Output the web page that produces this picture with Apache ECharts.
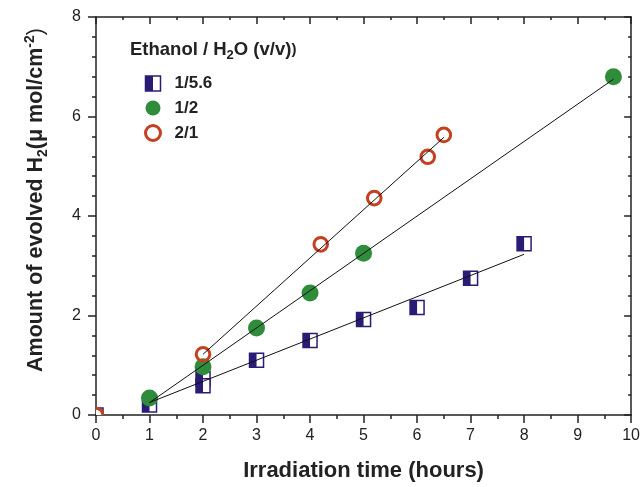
<!DOCTYPE html>
<html>
<head>
<meta charset="utf-8">
<title>H2 evolution</title>
<script src="https://cdn.jsdelivr.net/npm/echarts@6/dist/echarts.min.js"></script>
<style>
  html, body { margin: 0; padding: 0; background: #fff; }
  #chart { width: 643px; height: 487px; }
</style>
</head>
<body>
<div id="chart"></div>
<script>
// 1/5.6 ethanol / water (half filled squares)
const hoursLow = [0, 1, 2, 2, 3, 4, 5, 6, 7, 8]
const h2Low = [0, 0.2, 0.73, 0.59, 1.1, 1.5, 1.92, 2.16, 2.75, 3.44]
// 1/2 (filled green circles)
const hoursMid = [1, 2, 3, 4, 5, 9.67]
const h2Mid = [0.34, 0.97, 1.75, 2.45, 3.25, 6.8]
// 2/1 (open red circles)
const hoursHigh = [0, 2, 4.2, 5.2, 6.2, 6.5]
const h2High = [0, 1.22, 3.43, 4.36, 5.19, 5.63]
// linear fits, start / end points
const fitLowX = [1, 8]
const fitLowY = [0.25, 3.23]
const fitMidX = [1, 9.67]
const fitMidY = [0.25, 6.75]
const fitHighX = [2, 6.5]
const fitHighY = [1.22, 5.58]

const NAVY = '#2a1c74'
const GREEN = '#2e8c3b'
const RED = '#c4401e'
const FONT = 'Liberation Sans'

function pairs(xs, ys) {
  return xs.map((x, i) => [x, ys[i]])
}

const halfFill = new echarts.graphic.LinearGradient(0, 0, 1, 0, [
  { offset: 0, color: NAVY },
  { offset: 0.5, color: NAVY },
  { offset: 0.5, color: '#fff' },
  { offset: 1, color: '#fff' }
])

function renderSquare(params, api) {
  const p = api.coord([api.value(0), api.value(1)])
  const s = 14
  return {
    type: 'group',
    children: [
      { type: 'rect', shape: { x: p[0] - s / 2, y: p[1] - s / 2, width: s, height: s }, style: { fill: '#fff', stroke: NAVY, lineWidth: 1.5 } },
      { type: 'rect', shape: { x: p[0] - s / 2, y: p[1] - s / 2, width: s / 2, height: s }, style: { fill: NAVY } }
    ]
  }
}

function renderDot(params, api) {
  const p = api.coord([api.value(0), api.value(1)])
  return { type: 'circle', shape: { cx: p[0], cy: p[1], r: 8.5 }, style: { fill: GREEN } }
}

function renderRing(params, api) {
  const p = api.coord([api.value(0), api.value(1)])
  return { type: 'circle', shape: { cx: p[0], cy: p[1], r: 6.8 }, style: { fill: 'none', stroke: RED, lineWidth: 3 } }
}

function fitLine(name, xs, ys) {
  return {
    name: name,
    type: 'line',
    data: pairs(xs, ys),
    symbol: 'none',
    z: 5,
    silent: true,
    lineStyle: { color: '#111', width: 1 }
  }
}

const axisLine = { onZero: false, lineStyle: { color: '#222', width: 1.5 } }
const tickOut = { inside: false, length: 8, lineStyle: { color: '#222', width: 1.5 } }
const tickIn = { inside: true, length: 7, lineStyle: { color: '#222', width: 1.5 } }

const chart = echarts.init(document.getElementById('chart'))
chart.setOption({
  animation: false,
  backgroundColor: '#fff',
  title: {
    left: 125,
    top: 32,
    text: '{b|Ethanol / H}{s|2}{b|O (v/v)}{t|)}',
    textStyle: {
      rich: {
        b: { fontSize: 18.5, fontWeight: 'bold', fontFamily: FONT, color: '#222' },
        s: { fontSize: 13, fontWeight: 'bold', fontFamily: FONT, color: '#222', padding: [12, 0, 0, 0] },
        t: { fontSize: 15, fontFamily: FONT, color: '#222' }
      }
    }
  },
  legend: {
    orient: 'vertical',
    left: 139,
    top: 70,
    itemWidth: 15,
    itemHeight: 15,
    itemGap: 7.5,
    textStyle: { fontSize: 17, fontWeight: 'bold', fontFamily: FONT, color: '#222', padding: [0, 0, 0, 9] },
    data: [
      { name: '1/5.6', icon: 'rect', itemStyle: { color: halfFill, borderColor: NAVY, borderWidth: 1.5 } },
      { name: '1/2', icon: 'circle', itemStyle: { color: GREEN } },
      { name: '2/1', icon: 'circle', itemStyle: { color: '#fff', borderColor: RED, borderWidth: 3 } }
    ]
  },
  grid: { left: 96, right: 9, top: 17, bottom: 72 },
  xAxis: [
    {
      type: 'value', min: 0, max: 10, interval: 1,
      name: 'Irradiation time (hours)',
      nameLocation: 'middle',
      nameGap: 45,
      nameTextStyle: { fontSize: 22, fontWeight: 'bold', fontFamily: FONT, color: '#222' },
      axisLine: axisLine,
      axisTick: tickOut,
      minorTick: { show: true, splitNumber: 2, length: 4, lineStyle: { color: '#222', width: 1.5 } },
      axisLabel: { color: '#222', fontSize: 16, fontFamily: FONT, margin: 13 },
      splitLine: { show: false }
    },
    {
      type: 'value', min: 0, max: 10, interval: 1, position: 'top',
      axisLine: axisLine,
      axisTick: tickIn,
      minorTick: { show: true, splitNumber: 2, length: 3, lineStyle: { color: '#222', width: 1.5 } },
      axisLabel: { show: false },
      splitLine: { show: false }
    }
  ],
  yAxis: [
    {
      type: 'value', min: 0, max: 8, interval: 2,
      name: '{n|Amount of evolved H}{sub|2}{n|(μ mol/cm}{sup|-2}{p|)}',
      nameLocation: 'middle',
      nameGap: 46,
      nameTextStyle: {
        padding: [0, 0, 0, 32],
        rich: {
          n: { fontSize: 21.5, fontWeight: 'bold', fontFamily: FONT, color: '#222' },
          sub: { fontSize: 14, fontWeight: 'bold', fontFamily: FONT, color: '#222', padding: [13, 0, 0, 0] },
          sup: { fontSize: 14, fontWeight: 'bold', fontFamily: FONT, color: '#222', padding: [0, 0, 13, 0] },
          p: { fontSize: 21.5, fontFamily: FONT, color: '#222' }
        }
      },
      axisLine: axisLine,
      axisTick: tickOut,
      minorTick: { show: true, splitNumber: 5, length: 4, lineStyle: { color: '#222', width: 1.5 } },
      axisLabel: { color: '#222', fontSize: 16, fontFamily: FONT, margin: 15 },
      splitLine: { show: false }
    },
    {
      type: 'value', min: 0, max: 8, interval: 2, position: 'right',
      axisLine: axisLine,
      axisTick: tickIn,
      minorTick: { show: true, splitNumber: 5, length: 3, lineStyle: { color: '#222', width: 1.5 } },
      axisLabel: { show: false },
      splitLine: { show: false }
    }
  ],
  series: [
    { name: '1/5.6', type: 'custom', clip: true, z: 2, renderItem: renderSquare, encode: { x: 0, y: 1 }, data: pairs(hoursLow, h2Low), itemStyle: { color: NAVY } },
    { name: '1/2', type: 'custom', clip: true, z: 3, renderItem: renderDot, encode: { x: 0, y: 1 }, data: pairs(hoursMid, h2Mid), itemStyle: { color: GREEN } },
    { name: '2/1', type: 'custom', clip: true, z: 4, renderItem: renderRing, encode: { x: 0, y: 1 }, data: pairs(hoursHigh, h2High), itemStyle: { color: RED } },
    fitLine('fit 1/5.6', fitLowX, fitLowY),
    fitLine('fit 1/2', fitMidX, fitMidY),
    fitLine('fit 2/1', fitHighX, fitHighY)
  ]
})
</script>
</body>
</html>
